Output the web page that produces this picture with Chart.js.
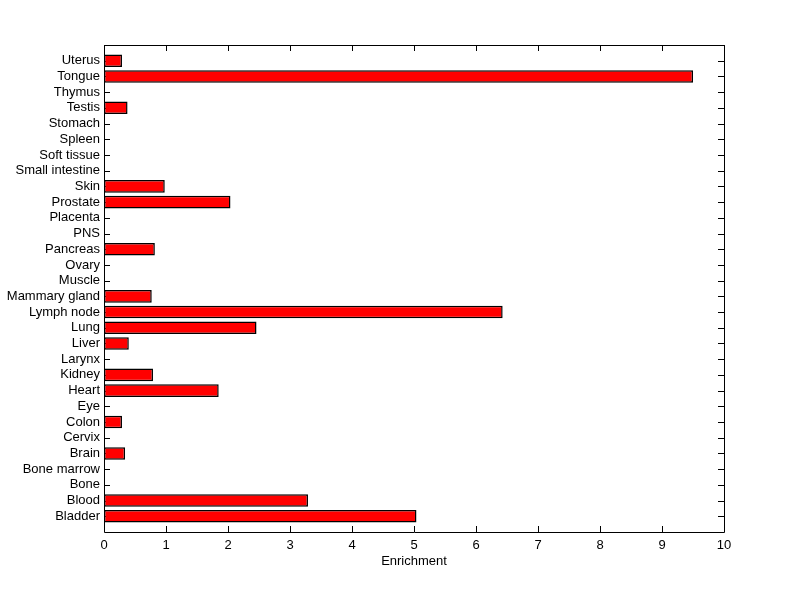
<!DOCTYPE html>
<html>
<head>
<meta charset="utf-8">
<script src="https://cdn.jsdelivr.net/npm/chart.js@4/dist/chart.umd.min.js"></script>
<style>
html,body{margin:0;padding:0;background:#fff;}
canvas{display:block;}
</style>
</head>
<body>
<canvas id="c" width="800" height="599"></canvas>
<script>
const categories = ["Bladder","Blood","Bone","Bone marrow","Brain","Cervix","Colon","Eye","Heart","Kidney","Larynx","Liver","Lung","Lymph node","Mammary gland","Muscle","Ovary","Pancreas","PNS","Placenta","Prostate","Skin","Small intestine","Soft tissue","Spleen","Stomach","Testis","Thymus","Tongue","Uterus"];
const enrichment = [5.04,3.29,0,0,0.34,0,0.29,0,1.85,0.79,0,0.40,2.46,6.43,0.77,0,0,0.82,0,0,2.04,0.98,0,0,0,0,0.38,0,9.5,0.29];
const xTicks = [0,1,2,3,4,5,6,7,8,9,10];
const xTitle = "Enrichment";

const points = enrichment.map((v,i)=>({x:v,y:i+1}));
const FONT = {family:"'Liberation Sans', Arial, sans-serif", size:13};

const frame = {
  id:'frame',
  beforeDatasetsDraw(chart){
    const {ctx, chartArea:a, scales} = chart;
    ctx.save();
    ctx.strokeStyle='#000'; ctx.lineWidth=1;
    ctx.beginPath();
    const L = 6;
    xTicks.forEach(t=>{
      const x = Math.round(scales.x.getPixelForValue(t))+0.5;
      ctx.moveTo(x, a.bottom); ctx.lineTo(x, a.bottom-L);
      ctx.moveTo(x, a.top); ctx.lineTo(x, a.top+L);
    });
    categories.forEach((c,i)=>{
      const y = Math.round(scales.y.getPixelForValue(i+1))+0.5;
      ctx.moveTo(a.left, y); ctx.lineTo(a.left+L, y);
      ctx.moveTo(a.right, y); ctx.lineTo(a.right-L, y);
    });
    ctx.stroke();
    ctx.restore();
  },
  afterDraw(chart){
    const {ctx, chartArea:a} = chart;
    ctx.save();
    ctx.strokeStyle='#000'; ctx.lineWidth=1;
    ctx.beginPath();
    ctx.rect(Math.round(a.left)+0.5, Math.round(a.top)+0.5, Math.round(a.right-a.left), Math.round(a.bottom-a.top));
    ctx.stroke();
    ctx.restore();
  }
};

new Chart(document.getElementById('c'), {
  type:'bar',
  data:{
    datasets:[{
      data:points,
      backgroundColor:'#ff0000',
      borderColor:'#000000',
      borderWidth:1.5,
      borderSkipped:false,
      barPercentage:0.8,
      categoryPercentage:1.0
    }]
  },
  options:{
    indexAxis:'y',
    responsive:false,
    animation:false,
    devicePixelRatio:1,
    layout:{padding:{left:0,top:45,right:76,bottom:30}},
    plugins:{legend:{display:false},tooltip:{enabled:false}},
    scales:{
      x:{
        type:'linear', min:0, max:10,
        afterBuildTicks(s){ s.ticks = xTicks.map(v=>({value:v})); },
        grid:{display:false, drawTicks:false},
        border:{display:false},
        ticks:{color:'#000', font:FONT, padding:6, maxRotation:0},
        title:{display:true, text:xTitle, color:'#000', font:FONT, padding:{top:3,bottom:0}},
        afterFit(s){ s.height = 37; }
      },
      y:{
        type:'linear', min:0, max:31, offset:false,
        afterBuildTicks(s){ s.ticks = categories.map((c,i)=>({value:i+1})); },
        grid:{display:false, drawTicks:false},
        border:{display:false},
        ticks:{color:'#000', font:FONT, padding:4, autoSkip:false,
          callback:(v)=>categories[v-1] || ''},
        afterFit(s){ s.width = 104; }
      }
    }
  },
  plugins:[frame]
});
</script>
</body>
</html>
